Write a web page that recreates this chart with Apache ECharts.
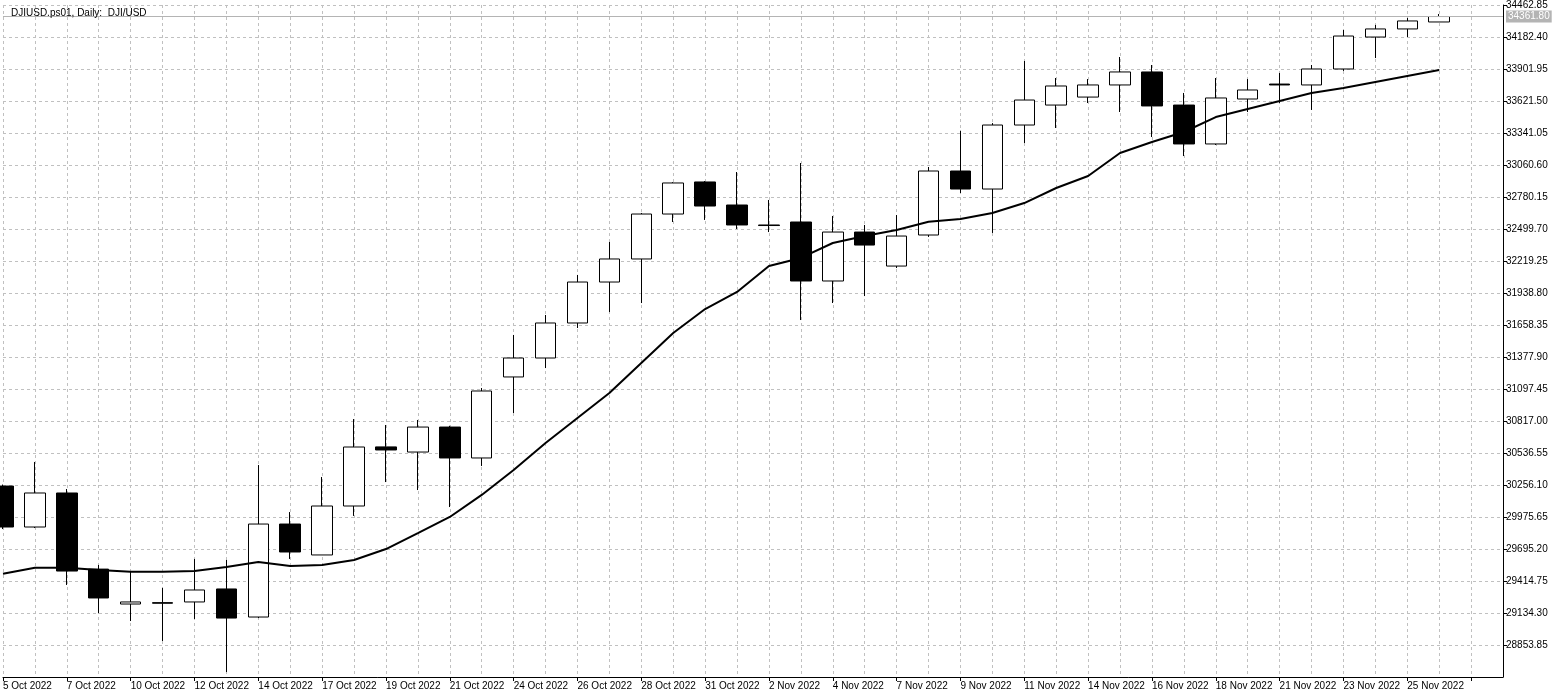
<!DOCTYPE html>
<html><head><meta charset="utf-8">
<script src="https://cdn.jsdelivr.net/npm/echarts@6/dist/echarts.min.js"></script>
<style>html,body{margin:0;padding:0;background:#fff}#c{width:1558px;height:698px}</style>
</head><body><div id="c"></div>
<script>
const categories = ['5 Oct 2022','6 Oct 2022','7 Oct 2022','9 Oct 2022','10 Oct 2022','11 Oct 2022','12 Oct 2022','13 Oct 2022','14 Oct 2022','16 Oct 2022',
'17 Oct 2022','18 Oct 2022','19 Oct 2022','20 Oct 2022','21 Oct 2022','23 Oct 2022','24 Oct 2022','25 Oct 2022','26 Oct 2022','27 Oct 2022',
'28 Oct 2022','30 Oct 2022','31 Oct 2022','1 Nov 2022','2 Nov 2022','3 Nov 2022','4 Nov 2022','6 Nov 2022','7 Nov 2022','8 Nov 2022',
'9 Nov 2022','10 Nov 2022','11 Nov 2022','13 Nov 2022','14 Nov 2022','15 Nov 2022','16 Nov 2022','17 Nov 2022','18 Nov 2022','20 Nov 2022',
'21 Nov 2022','22 Nov 2022','23 Nov 2022','24 Nov 2022','25 Nov 2022','27 Nov 2022','',''];
const opens  = [30247,29888,30186,29519,29213,29225,29231,29345,29099,29914,29643,30072,30590,30545,30764,30493,31203,31369,31676,32035,32237,32631,32912,32710,32535,32561,32044,32473,32175,32447,33008,32850,33411,33586,33656,33762,33876,33586,33245,33639,33770,33762,33902,34182,34253,34314];
const closes = [29888,30186,29502,29266,29231,29220,29336,29090,29914,29669,30072,30589,30563,30764,30493,31080,31369,31676,32035,32237,32631,32903,32701,32535,32530,32044,32473,32359,32438,33008,32850,33411,33630,33753,33762,33876,33578,33245,33648,33718,33762,33902,34191,34253,34323,34361.8];
const lows   = [29870,29879,29380,29134,29064,28889,29082,28617,29090,29608,29643,29985,30282,30212,30063,30423,30887,31281,31632,31772,31851,32561,32579,32500,32473,31702,31851,31912,32158,32430,32815,32465,33253,33385,33604,33525,33306,33139,33236,33525,33604,33543,33885,33998,34182,34314];
const highs  = [30260,30458,30221,29555,29494,29354,29608,29599,30431,30019,30326,30834,30782,30826,30775,31106,31571,31746,32097,32386,32640,32910,32920,32999,32754,33078,32614,32535,32622,33043,33361,33428,33972,33823,33814,34007,33937,33692,33823,33814,33867,33937,34244,34288,34349,34384];
const maValues = [29479,29531,29531,29511,29496,29496,29502,29538,29581,29546,29555,29599,29695,29835,29976,30169,30388,30624,30843,31062,31325,31588,31798,31948,32175,32246,32377,32438,32491,32564,32587,32640,32727,32859,32964,33166,33262,33350,33481,33551,33621,33692,33735,33788,33841,33893];
const yMin = 28573.40, yMax = 34462.85, yStep = 280.45;
const lastPrice = 34361.80;

const candles = opens.map((o,i)=>[o, closes[i], lows[i], highs[i]]);
const font = 'Liberation Sans';
const chart = echarts.init(document.getElementById('c'), null, {renderer:'canvas'});
chart.setOption({
  animation:false,
  backgroundColor:'#fff',
  title:{text:'DJIUSD.ps01, Daily:  DJI/USD', left:6, top:3, textStyle:{fontFamily:font,fontSize:10,fontWeight:'normal',color:'#000'}},
  grid:{left:2, right:55, top:5, bottom:21},
  xAxis:{type:'category', data:categories, boundaryGap:false,
    axisLine:{lineStyle:{color:'#000'}}, axisTick:{show:true, interval:1, length:4, lineStyle:{color:'#000'}},
    axisLabel:{interval:1, align:'left', fontFamily:font, fontSize:10, color:'#000', margin:4},
    splitLine:{show:true, interval:0, lineStyle:{color:'#c0c0c0', type:[3,3]}}},
  yAxis:{type:'value', position:'right', min:yMin, max:yMax, interval:yStep, scale:true,
    axisLine:{show:true, lineStyle:{color:'#000'}}, axisTick:{show:true, length:4, lineStyle:{color:'#000'}},
    axisLabel:{showMinLabel:false, fontFamily:font, fontSize:10, color:'#000', margin:3, formatter:v=>v.toFixed(2)},
    splitLine:{show:true, lineStyle:{color:'#c0c0c0', type:[3,3]}}},
  series:[
    {type:'candlestick', data:candles, barWidth:21,
      itemStyle:{color:'#fff', color0:'#000', borderColor:'#000', borderColor0:'#000', borderWidth:1},
      markLine:{symbol:'none', silent:true, data:[{yAxis:lastPrice}],
        lineStyle:{color:'#b4b4b4', type:'solid', width:1},
        label:{position:'end', formatter:()=>lastPrice.toFixed(2), backgroundColor:'#b4b4b4', color:'#fff',
          fontFamily:font, fontSize:10, padding:[1,2], distance:3}}},
    {type:'line', data:maValues, showSymbol:false, symbol:'none', lineStyle:{color:'#000', width:2}, z:3}
  ]
});
</script></body></html>
